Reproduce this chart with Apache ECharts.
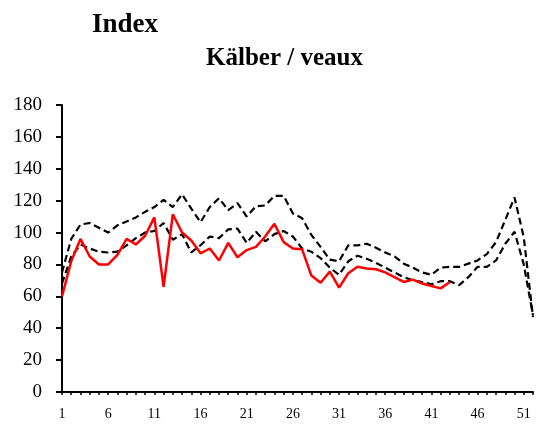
<!DOCTYPE html>
<html>
<head>
<meta charset="utf-8">
<script src="https://cdn.jsdelivr.net/npm/echarts@6/dist/echarts.min.js"></script>
<style>html,body{margin:0;padding:0;background:#fff}#c{width:541px;height:430px}</style>
</head>
<body>
<div id="c"></div>
<script>
var weeks = [];
for (var i = 1; i <= 52; i++) weeks.push(String(i));
var upper = [75,96,105,106,103,100,104.5,107,109.5,113,116,120.5,116,124,115,106.5,116,121.5,114,118.5,110,116.5,117,123,123,112,109,98.5,91,83,82,92,92,93,90.5,87.5,85,80.5,78,75,73.5,78,78.5,78.5,80.5,82.5,86.5,94,108,122,97,47];
var lower = [68,85,92.5,90,88,87.5,88,92,96.5,100,101,106,95.5,99,87.5,92,97.5,96.5,102,102.5,93.5,100.5,94.5,99,101,97.5,90,88,84,78,73.5,82,85.5,83.5,81,78,75,72,70,69,67.5,69.5,69.5,67,72,78.5,78.5,82.5,93,100.5,80,48];
var current = [60,82,96,85,80,80,86,96,92.5,98,109.5,66,111.5,100,95,87,90,82.5,93.5,84.5,89,91,97.5,105.5,94,90,89.5,73,68.5,75.5,65.5,74.5,78.5,77.5,77,75,72,69,70.5,68,66.5,65,69];
var yTicks = {min: 0, max: 180, interval: 20};

var chart = echarts.init(document.getElementById('c'));
var font = 'Liberation Serif, Times New Roman, serif';
chart.setOption({
  animation: false,
  backgroundColor: '#fff',
  title: [
    {text: 'Index', left: 87, top: 7, textStyle: {fontFamily: font, fontSize: 27, fontWeight: 'bold', color: '#000'}},
    {text: 'Kälber / veaux', left: 201, top: 41, textStyle: {fontFamily: font, fontSize: 25, fontWeight: 'bold', color: '#000'}}
  ],
  grid: {left: 62, right: 8, top: 105, bottom: 38, containLabel: false},
  xAxis: {
    type: 'category', data: weeks, boundaryGap: false,
    axisLine: {show: true, lineStyle: {color: '#000', width: 2}},
    axisTick: {show: true, interval: 0, length: 3, lineStyle: {color: '#000', width: 1.5}},
    axisLabel: {interval: 4, margin: 15, color: '#000', fontFamily: font, fontSize: 14},
    splitLine: {show: false}
  },
  yAxis: {
    type: 'value', min: yTicks.min, max: yTicks.max, interval: yTicks.interval,
    axisLine: {show: true, lineStyle: {color: '#000', width: 2}},
    axisTick: {show: true, length: 6, lineStyle: {color: '#000', width: 2}},
    axisLabel: {margin: 20, color: '#000', fontFamily: font, fontSize: 19},
    splitLine: {show: false}
  },
  series: [
    {type: 'line', data: upper, symbol: 'none', lineStyle: {color: '#000', width: 2.2, type: [7, 4]}, z: 2},
    {type: 'line', data: lower, symbol: 'none', lineStyle: {color: '#000', width: 2.2, type: [7, 4]}, z: 2},
    {type: 'line', data: current, symbol: 'none', lineStyle: {color: '#ff0000', width: 2.5}, z: 3}
  ]
});
</script>
</body>
</html>
